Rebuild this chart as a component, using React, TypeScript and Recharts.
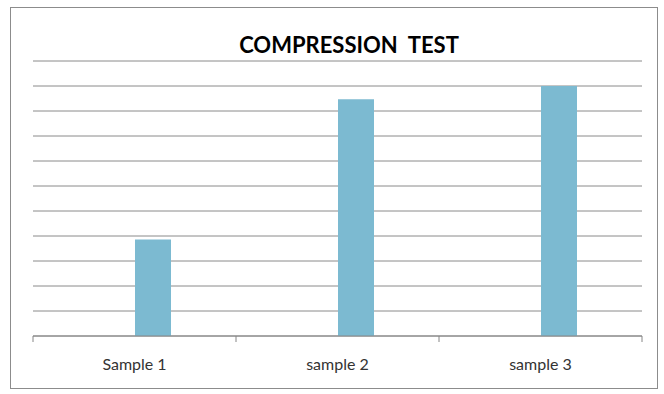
import { BarChart, Bar, XAxis, YAxis, CartesianGrid } from 'recharts'

const categories = ['Sample 1', 'sample 2', 'sample 3']
// first series is empty in the original chart, it only reserves space
const emptySeries: (number | null)[] = [null, null, null]
const strengthValues = [3.86, 9.47, 10.0]
const yTicks = [0, 1, 2, 3, 4, 5, 6, 7, 8, 9, 10, 11]

const data = categories.map((name, i) => ({
  name,
  empty: emptySeries[i],
  value: strengthValues[i],
}))

const W = 664
const H = 394
const margin = { top: 61, right: 22, bottom: 28, left: 33 }
const bandHalf = (W - margin.left - margin.right) / categories.length / 2

// eslint-disable-next-line @typescript-eslint/no-explicit-any
function CategoryTick(props: any) {
  const { x, y, payload, index } = props
  const last = index === categories.length - 1
  return (
    <g>
      <line x1={x - bandHalf} y1={y} x2={x - bandHalf} y2={y + 6} stroke="#868686" />
      {last && <line x1={x + bandHalf} y1={y} x2={x + bandHalf} y2={y + 6} stroke="#868686" />}
      <text x={x} y={y + 34} textAnchor="middle" fill="#333" fontSize={16} fontFamily="Lato, 'Open Sans', sans-serif">
        {payload.value}
      </text>
    </g>
  )
}

export default function App() {
  return (
    <div style={{ position: 'absolute', left: 0, top: 0, width: W, height: H, background: '#fff' }}>
      <div
        style={{
          position: 'absolute',
          left: 10,
          top: 7,
          width: 646,
          height: 380,
          border: '1px solid #8c8c8c',
        }}
      />
      <div
        style={{
          position: 'absolute',
          left: 0,
          width: 698,
          top: 31,
          textAlign: 'center',
          fontFamily: "Lato, 'Open Sans', sans-serif",
          fontWeight: 'bold',
          fontSize: 22,
          color: '#000',
          whiteSpace: 'pre',
        }}
      >
        COMPRESSION  TEST
      </div>
      <BarChart width={W} height={H} data={data} margin={margin} barGap={0}>
        <CartesianGrid vertical={false} stroke="#8a8a8a" />
        <YAxis hide domain={[0, 11]} ticks={yTicks} />
        <XAxis
          dataKey="name"
          height={30}
          tickSize={0}
          tickMargin={0}
          tickLine={false}
          axisLine={{ stroke: '#868686' }}
          tick={<CategoryTick />}
          interval={0}
        />
        <Bar dataKey="empty" barSize={36} fill="#4f81bd" isAnimationActive={false} />
        <Bar dataKey="value" barSize={36} fill="#7cbad1" isAnimationActive={false} />
      </BarChart>
    </div>
  )
}
